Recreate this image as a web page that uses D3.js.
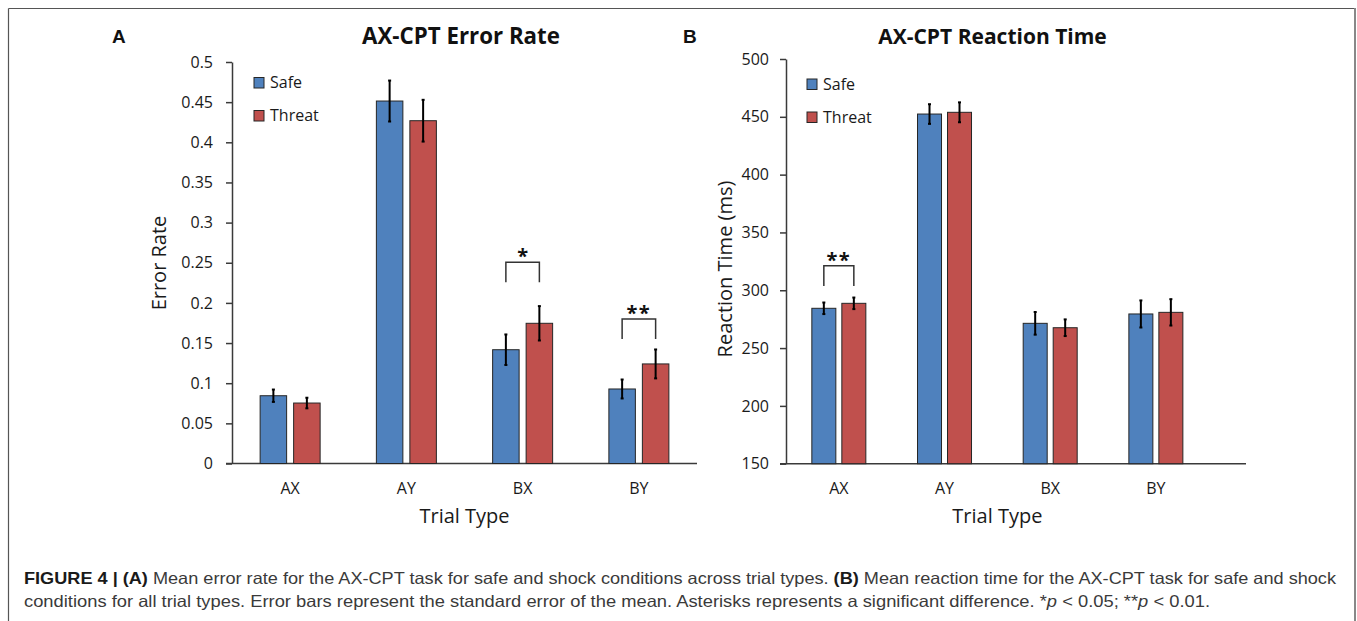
<!DOCTYPE html>
<html><head><meta charset="utf-8">
<script src="https://cdn.jsdelivr.net/npm/d3@7"></script>
<style>
html,body{margin:0;padding:0;background:#fff;}
svg{display:block;}
</style></head>
<body>
<svg id="chart" width="1357" height="621"></svg>
<script>
// ---------- data ----------
const categories = ["AX", "AY", "BX", "BY"];
const seriesNames = ["Safe", "Threat"];
const seriesColors = ["#4F81BD", "#C0504D"];

const errorRateSafe   = [0.0844, 0.4514, 0.1417, 0.0928];
const errorRateThreat = [0.0753, 0.4269, 0.1746, 0.1240];
const errorRateSafeSE   = [0.0077, 0.0255, 0.0190, 0.0118];
const errorRateThreatSE = [0.0066, 0.0260, 0.0214, 0.0180];
const errorRateTicks = [0, 0.05, 0.1, 0.15, 0.2, 0.25, 0.3, 0.35, 0.4, 0.45, 0.5];
const errorRateTickLabels = ["0", "0.05", "0.1", "0.15", "0.2", "0.25", "0.3", "0.35", "0.4", "0.45", "0.5"];
const errorRateSig = [
  {cat: "BX", label: "*",  top: 0.2506, leg: 0.2257},
  {cat: "BY", label: "**", top: 0.1800, leg: 0.1550}
];

const rtSafe   = [284.4, 452.4, 271.4, 279.5];
const rtThreat = [288.7, 453.9, 267.6, 280.9];
const rtSafeSE   = [5.0, 8.5, 9.8, 11.7];
const rtThreatSE = [5.0, 8.6, 7.2, 11.4];
const rtTicks = [150, 200, 250, 300, 350, 400, 450, 500];
const rtTickLabels = ["150", "200", "250", "300", "350", "400", "450", "500"];
const rtSig = [
  {cat: "AX", label: "**", top: 321.2, leg: 303.7}
];

const captionLine1 = [
  {t: "FIGURE 4 | (A)", b: true}, {t: " Mean error rate for the AX-CPT task for safe and shock conditions across trial types. "},
  {t: "(B)", b: true}, {t: " Mean reaction time for the AX-CPT task for safe and shock"}
];
const captionLine2 = [
  {t: "conditions for all trial types. Error bars represent the standard error of the mean. Asterisks represents a significant difference. *"},
  {t: "p", i: true}, {t: " < 0.05; **"}, {t: "p", i: true}, {t: " < 0.01."}
];

// ---------- drawing ----------
const svg = d3.select("#chart");
const FONT = "'Open Sans', 'Noto Sans', sans-serif";
const AX = "#3a3a3a";

// frame
svg.append("line").attr("x1", 8.5).attr("y1", 8.5).attr("x2", 1355).attr("y2", 8.5).attr("stroke", "#555").attr("stroke-width", 1.2);
svg.append("line").attr("x1", 8.5).attr("y1", 8.5).attr("x2", 8.5).attr("y2", 621).attr("stroke", "#555").attr("stroke-width", 1.2);
svg.append("line").attr("x1", 1355).attr("y1", 8).attr("x2", 1355).attr("y2", 621).attr("stroke", "#888").attr("stroke-width", 2);

function panel(cfg) {
  const g = svg.append("g");
  const x = d3.scaleBand().domain(categories).range(cfg.xRange);
  const inner = d3.scaleBand().domain(seriesNames)
    .range([-cfg.groupW / 2, cfg.groupW / 2]).paddingInner(cfg.innerPad);
  const y = d3.scaleLinear().domain(cfg.yDomain).range(cfg.yRange);

  // y axis
  const yAxis = d3.axisLeft(y).tickValues(cfg.ticks)
    .tickFormat((d, i) => cfg.tickLabels[i]).tickSize(6).tickSizeOuter(0).tickPadding(cfg.tickPad);
  const ya = g.append("g").attr("transform", `translate(${cfg.xRange[0]},0)`).call(yAxis);
  ya.selectAll("path,line").attr("stroke", AX).attr("stroke-width", 1.5);
  ya.selectAll("text").attr("font-family", FONT).attr("font-size", 16).attr("fill", "#1a1a1a");

  // x axis
  const xAxis = d3.axisBottom(x).tickSize(0).tickPadding(0);
  const xa = g.append("g").attr("transform", `translate(0,${y(cfg.yDomain[0])})`).call(xAxis);
  xa.select(".domain").remove();
  xa.selectAll("text").attr("font-family", FONT).attr("font-size", 16).attr("fill", "#1a1a1a")
    .attr("dy", null).attr("y", cfg.catLabelY - y(cfg.yDomain[0]));
  g.append("line").attr("x1", cfg.xRange[0] - 6).attr("x2", cfg.xAxisEnd)
    .attr("y1", y(cfg.yDomain[0])).attr("y2", y(cfg.yDomain[0]))
    .attr("stroke", AX).attr("stroke-width", 1.5);

  // bars
  const rows = [];
  categories.forEach((c, i) => {
    seriesNames.forEach((s, j) => {
      rows.push({c, s, j, v: cfg.values[j][i], se: cfg.se[j][i]});
    });
  });
  const bars = g.append("g");
  bars.selectAll("rect").data(rows).join("rect")
    .attr("x", d => x(d.c) + x.bandwidth() / 2 + inner(d.s))
    .attr("width", inner.bandwidth())
    .attr("y", d => y(d.v))
    .attr("height", d => y(cfg.yDomain[0]) - y(d.v))
    .attr("fill", d => seriesColors[d.j])
    .attr("stroke", "#262626").attr("stroke-width", 1);

  // error bars
  const eb = g.append("g").attr("stroke", "#000").attr("stroke-width", 2);
  rows.forEach(d => {
    const cx = x(d.c) + x.bandwidth() / 2 + inner(d.s) + inner.bandwidth() / 2;
    eb.append("line").attr("x1", cx).attr("x2", cx).attr("y1", y(d.v + d.se)).attr("y2", y(d.v - d.se));
    eb.append("line").attr("x1", cx - 1.5).attr("x2", cx + 1.5).attr("y1", y(d.v + d.se)).attr("y2", y(d.v + d.se));
    eb.append("line").attr("x1", cx - 1.5).attr("x2", cx + 1.5).attr("y1", y(d.v - d.se)).attr("y2", y(d.v - d.se));
  });

  // significance brackets
  cfg.sig.forEach(s => {
    const xa0 = x(s.cat) + x.bandwidth() / 2 + inner("Safe") + inner.bandwidth() / 2;
    const xa1 = x(s.cat) + x.bandwidth() / 2 + inner("Threat") + inner.bandwidth() / 2;
    g.append("path")
      .attr("d", `M${xa0},${y(s.leg)}V${y(s.top)}H${xa1}V${y(s.leg)}`)
      .attr("fill", "none").attr("stroke", "#333").attr("stroke-width", 1.5);
    g.append("text").attr("x", (xa0 + xa1) / 2).attr("y", y(s.top) + 1)
      .attr("text-anchor", "middle").attr("font-family", FONT).attr("font-weight", 700)
      .attr("font-size", 20).attr("letter-spacing", s.label.length > 1 ? 1.5 : 0)
      .attr("fill", "#111").text(s.label);
  });

  // legend
  seriesNames.forEach((s, j) => {
    const ly = cfg.legendY[j];
    g.append("rect").attr("x", cfg.legendX).attr("y", ly - 10.5).attr("width", 10).attr("height", 10.5)
      .attr("fill", seriesColors[j]).attr("stroke", "#262626").attr("stroke-width", 1);
    g.append("text").attr("x", cfg.legendX + 16).attr("y", ly)
      .attr("font-family", FONT).attr("font-size", 16).attr("fill", "#1a1a1a").text(s);
  });

  // titles
  g.append("text").attr("x", cfg.titleX).attr("y", 44).attr("text-anchor", "middle")
    .attr("font-family", FONT).attr("font-weight", 700).attr("font-size", cfg.titleSize).attr("fill", "#111")
    .text(cfg.title);
  g.append("text").attr("x", cfg.letterX).attr("y", 43)
    .attr("font-family", "'Liberation Sans', Arial, sans-serif").attr("font-weight", 700).attr("font-size", 19)
    .attr("fill", "#111").text(cfg.letter);
  g.append("text").attr("transform", `translate(${cfg.yTitleX},${cfg.yTitleY}) rotate(-90)`)
    .attr("text-anchor", "middle").attr("font-family", FONT).attr("font-size", 20).attr("fill", "#1a1a1a")
    .text(cfg.yTitle);
  g.append("text").attr("x", (cfg.xRange[0] + cfg.xRange[1]) / 2).attr("y", 523)
    .attr("text-anchor", "middle").attr("font-family", FONT).attr("font-size", 20).attr("fill", "#1a1a1a")
    .text("Trial Type");
}

panel({
  xRange: [232, 697], xAxisEnd: 697, groupW: 60, innerPad: 0.209,
  yDomain: [0, 0.5], yRange: [463.5, 62],
  ticks: errorRateTicks, tickLabels: errorRateTickLabels, tickPad: 13,
  values: [errorRateSafe, errorRateThreat], se: [errorRateSafeSE, errorRateThreatSE],
  sig: errorRateSig, catLabelY: 494,
  legendX: 254, legendY: [88, 121],
  title: "AX-CPT Error Rate", titleX: 461, titleSize: 22.3, letter: "A", letterX: 112,
  yTitle: "Error Rate", yTitleX: 166, yTitleY: 263
});

panel({
  xRange: [786, 1208.7], xAxisEnd: 1246, groupW: 54, innerPad: 0.2,
  yDomain: [150, 500], yRange: [463.7, 59],
  ticks: rtTicks, tickLabels: rtTickLabels, tickPad: 11,
  values: [rtSafe, rtThreat], se: [rtSafeSE, rtThreatSE],
  sig: rtSig, catLabelY: 494,
  legendX: 807, legendY: [89.5, 122.5],
  title: "AX-CPT Reaction Time", titleX: 992.5, titleSize: 21, letter: "B", letterX: 683,
  yTitle: "Reaction Time (ms)", yTitleX: 732, yTitleY: 269
});

// caption
function captionLine(parts, yPos, len) {
  const t = svg.append("text").attr("x", 24).attr("y", yPos)
    .attr("font-family", "'Liberation Sans Narrow', 'Liberation Sans', Arial, sans-serif")
    .attr("font-size", 16.5).attr("fill", "#3a3a3a")
    .attr("textLength", len).attr("lengthAdjust", "spacingAndGlyphs");
  parts.forEach(p => {
    t.append("tspan").attr("font-weight", p.b ? 700 : 400).attr("font-style", p.i ? "italic" : "normal")
      .attr("fill", p.b ? "#1a1a1a" : "#3a3a3a").text(p.t);
  });
}
captionLine(captionLine1, 584, 1312);
captionLine(captionLine2, 607, 1186);
</script>
</body></html>
